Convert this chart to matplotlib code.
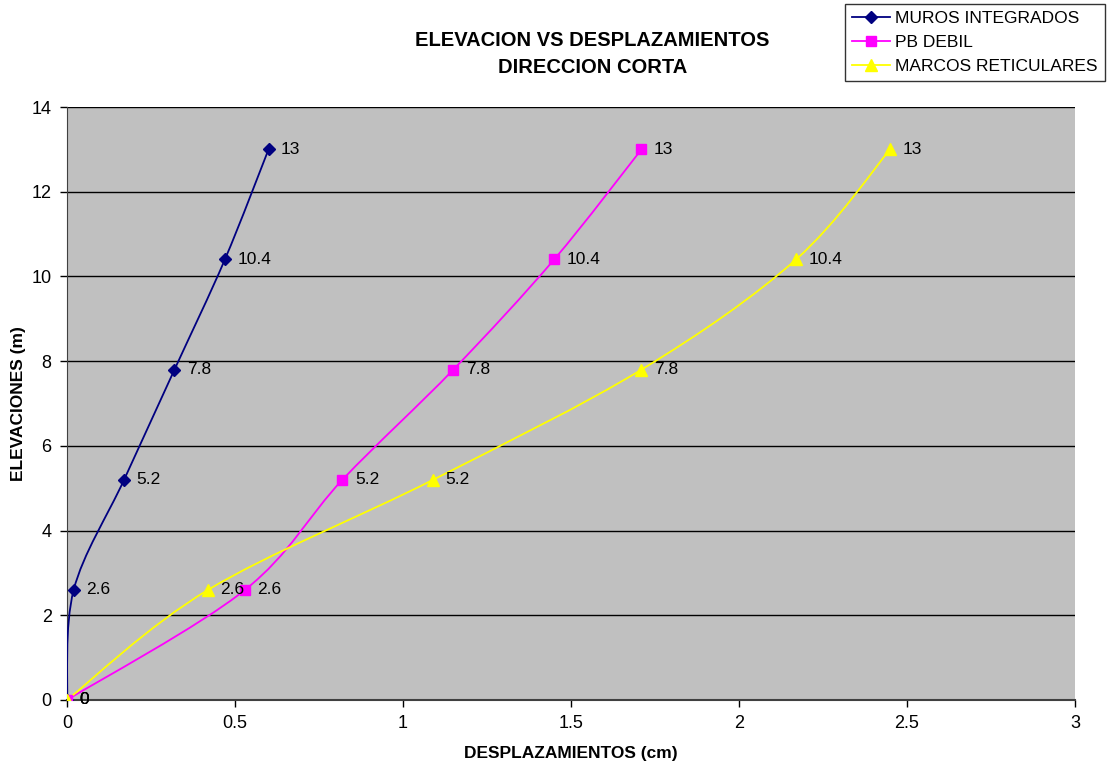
import matplotlib
matplotlib.use('Agg')
import matplotlib.pyplot as plt
from matplotlib.path import Path
from matplotlib.patches import PathPatch
from matplotlib.lines import Line2D
import numpy as np

plt.rcParams['font.family'] = ['Liberation Sans', 'DejaVu Sans']

# datos
elev = [0, 2.6, 5.2, 7.8, 10.4, 13]
muros = [0, 0.02, 0.17, 0.32, 0.47, 0.60]
pb_debil = [0, 0.53, 0.82, 1.15, 1.45, 1.71]
marcos = [0, 0.42, 1.09, 1.71, 2.17, 2.45]

series = [
    ('MUROS INTEGRADOS', muros, '#000080', 'D', 6),
    ('PB DEBIL', pb_debil, '#FF00FF', 's', 7),
    ('MARCOS RETICULARES', marcos, '#FFFF00', '^', 8),
]

fs = 12.5


def curva_suave(xs, ys):
    # linea suavizada tipo excel (bezier cubica)
    pts = np.column_stack([xs, ys]).astype(float)
    n = len(pts)
    verts = [pts[0]]
    codes = [Path.MOVETO]
    for i in range(n - 1):
        p0 = pts[i - 1] if i > 0 else pts[i]
        p1 = pts[i]
        p2 = pts[i + 1]
        p3 = pts[i + 2] if i + 2 < n else pts[i + 1]
        c1 = p1 + (p2 - p0) / 6.0
        c2 = p2 - (p3 - p1) / 6.0
        verts += [c1, c2, p2]
        codes += [Path.CURVE4] * 3
    return Path(verts, codes)


fig = plt.figure(figsize=(11.07, 7.66), dpi=100)
ax = fig.add_axes([0.0605, 0.0862, 0.9105, 0.7741])
ax.set_facecolor('#C0C0C0')

handles = []
for nombre, xs, color, mk, ms in series:
    patch = PathPatch(curva_suave(xs, elev), facecolor='none', edgecolor=color, lw=1.3, zorder=3)
    ax.add_patch(patch)
    ax.plot(xs, elev, linestyle='none', marker=mk, color=color, markersize=ms, zorder=4)
    for x, y in zip(xs, elev):
        ax.annotate('%g' % y, (x, y), xytext=(9, 0), textcoords='offset points',
                    va='center', ha='left', fontsize=fs, zorder=5)
    handles.append(Line2D([], [], color=color, marker=mk, markersize=ms, lw=1.3, label=nombre))

ax.set_xlim(0, 3)
ax.set_ylim(0, 14)
ax.set_xticks(np.arange(0, 3.01, 0.5))
ax.set_xticklabels(['0', '0.5', '1', '1.5', '2', '2.5', '3'])
ax.set_yticks(range(0, 15, 2))
ax.yaxis.grid(True, color='black', lw=1)
ax.set_axisbelow(True)
ax.tick_params(labelsize=13, direction='out', length=5, width=1, colors='black', pad=6)
for s in ['top', 'right']:
    ax.spines[s].set_visible(False)
ax.spines['left'].set_color('#404040')
ax.spines['bottom'].set_color('#404040')
ax.spines['bottom'].set_linewidth(1.5)

ax.set_xlabel('DESPLAZAMIENTOS (cm)', fontsize=fs, fontweight='bold', labelpad=10)
ax.set_ylabel('ELEVACIONES (m)', fontsize=fs, fontweight='bold', labelpad=4)
fig.text(0.535, 0.9295, 'ELEVACION VS DESPLAZAMIENTOS\nDIRECCION CORTA', ha='center', va='center',
         fontsize=14.5, fontweight='bold', linespacing=1.55)

leg = fig.legend(handles=handles, loc='upper right', bbox_to_anchor=(0.998, 0.995), fontsize=fs,
                 frameon=True, fancybox=False, edgecolor='black', handlelength=2.2,
                 borderpad=0.4, labelspacing=0.5, handletextpad=0.3, borderaxespad=0)
leg.get_frame().set_linewidth(1)

fig.savefig('out.png', dpi=100)
